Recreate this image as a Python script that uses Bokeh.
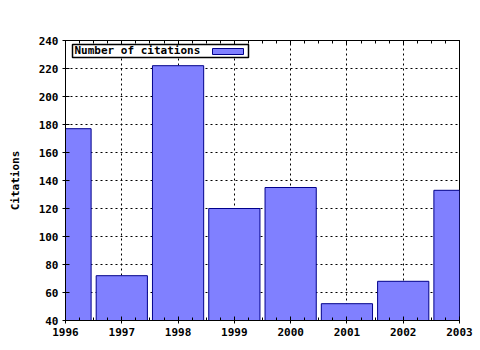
from bokeh.plotting import figure
from bokeh.models import LinearAxis, Range1d, SingleIntervalTicker, BoxAnnotation, Label
from bokeh.embed import file_html
from bokeh.resources import INLINE

years = [1996, 1997, 1998, 1999, 2000, 2001, 2002, 2003]
citations = [177, 72, 222, 120, 135, 52, 68, 133]
y_ticks = [40, 60, 80, 100, 120, 140, 160, 180, 200, 220, 240]
series_name = "Number of citations"
y_title = "Citations"

FONT = "DejaVu Sans Mono"

p = figure(width=480, height=350, output_backend="svg", toolbar_location=None,
           x_range=Range1d(1996, 2003), y_range=Range1d(40, 240),
           min_border_left=65, min_border_right=21, min_border_top=40, min_border_bottom=30)
p.background_fill_color = "white"
p.border_fill_color = "white"
p.outline_line_color = "black"
p.outline_line_width = 1

p.vbar(x=years, top=citations, bottom=0, width=0.91,
       fill_color="#8080ff", line_color="#00008b", line_width=1)

for ax in (p.xaxis[0], p.yaxis[0]):
    ax.axis_line_color = "black"
    ax.major_tick_line_color = "black"
    ax.minor_tick_line_color = "black"
    ax.major_label_text_font = FONT
    ax.major_label_text_font_style = "bold"
    ax.major_label_text_font_size = "11px"
    ax.major_label_text_color = "black"
    ax.major_tick_in = 4
    ax.major_tick_out = 3
    ax.minor_tick_in = 3
    ax.minor_tick_out = 0

p.xaxis.ticker = SingleIntervalTicker(interval=1, num_minor_ticks=4)
p.yaxis.ticker = y_ticks
p.xaxis.major_label_standoff = 4
p.yaxis.major_label_standoff = 4

p.yaxis.axis_label = y_title
p.yaxis.axis_label_text_font = FONT
p.yaxis.axis_label_text_font_style = "bold"
p.yaxis.axis_label_text_font_size = "11px"
p.yaxis.axis_label_text_color = "black"
p.yaxis.axis_label_standoff = 14

top_axis = LinearAxis(ticker=SingleIntervalTicker(interval=1, num_minor_ticks=4),
                      major_label_text_alpha=0, major_label_text_font_size="1px",
                      major_tick_in=4, major_tick_out=0, minor_tick_in=3, minor_tick_out=0,
                      axis_line_color="black")
p.add_layout(top_axis, "above")

p.xgrid.ticker = SingleIntervalTicker(interval=1)
p.xgrid.grid_line_color = "black"
p.xgrid.grid_line_dash = "2 3"
p.ygrid.grid_line_color = "black"
p.ygrid.grid_line_dash = "2 3"
p.ygrid.ticker = y_ticks

# Legend drawn manually (label left, swatch right)
p.add_layout(BoxAnnotation(left=7, right=183, top=276, bottom=263,
                           left_units="screen", right_units="screen",
                           top_units="screen", bottom_units="screen",
                           fill_color="white", fill_alpha=1,
                           line_color="black", line_alpha=1, line_width=1.5, level="overlay"))
p.add_layout(Label(x=9, y=264, x_units="screen", y_units="screen", text=series_name,
                   text_font=FONT, text_font_style="bold", text_font_size="11px",
                   text_color="black", level="overlay"))
p.add_layout(BoxAnnotation(left=147, right=178, top=272, bottom=266,
                           left_units="screen", right_units="screen",
                           top_units="screen", bottom_units="screen",
                           fill_color="#8080ff", fill_alpha=1,
                           line_color="#00008b", line_alpha=1, line_width=1, level="overlay"))

open("out.html", "w").write(file_html(p, INLINE))
